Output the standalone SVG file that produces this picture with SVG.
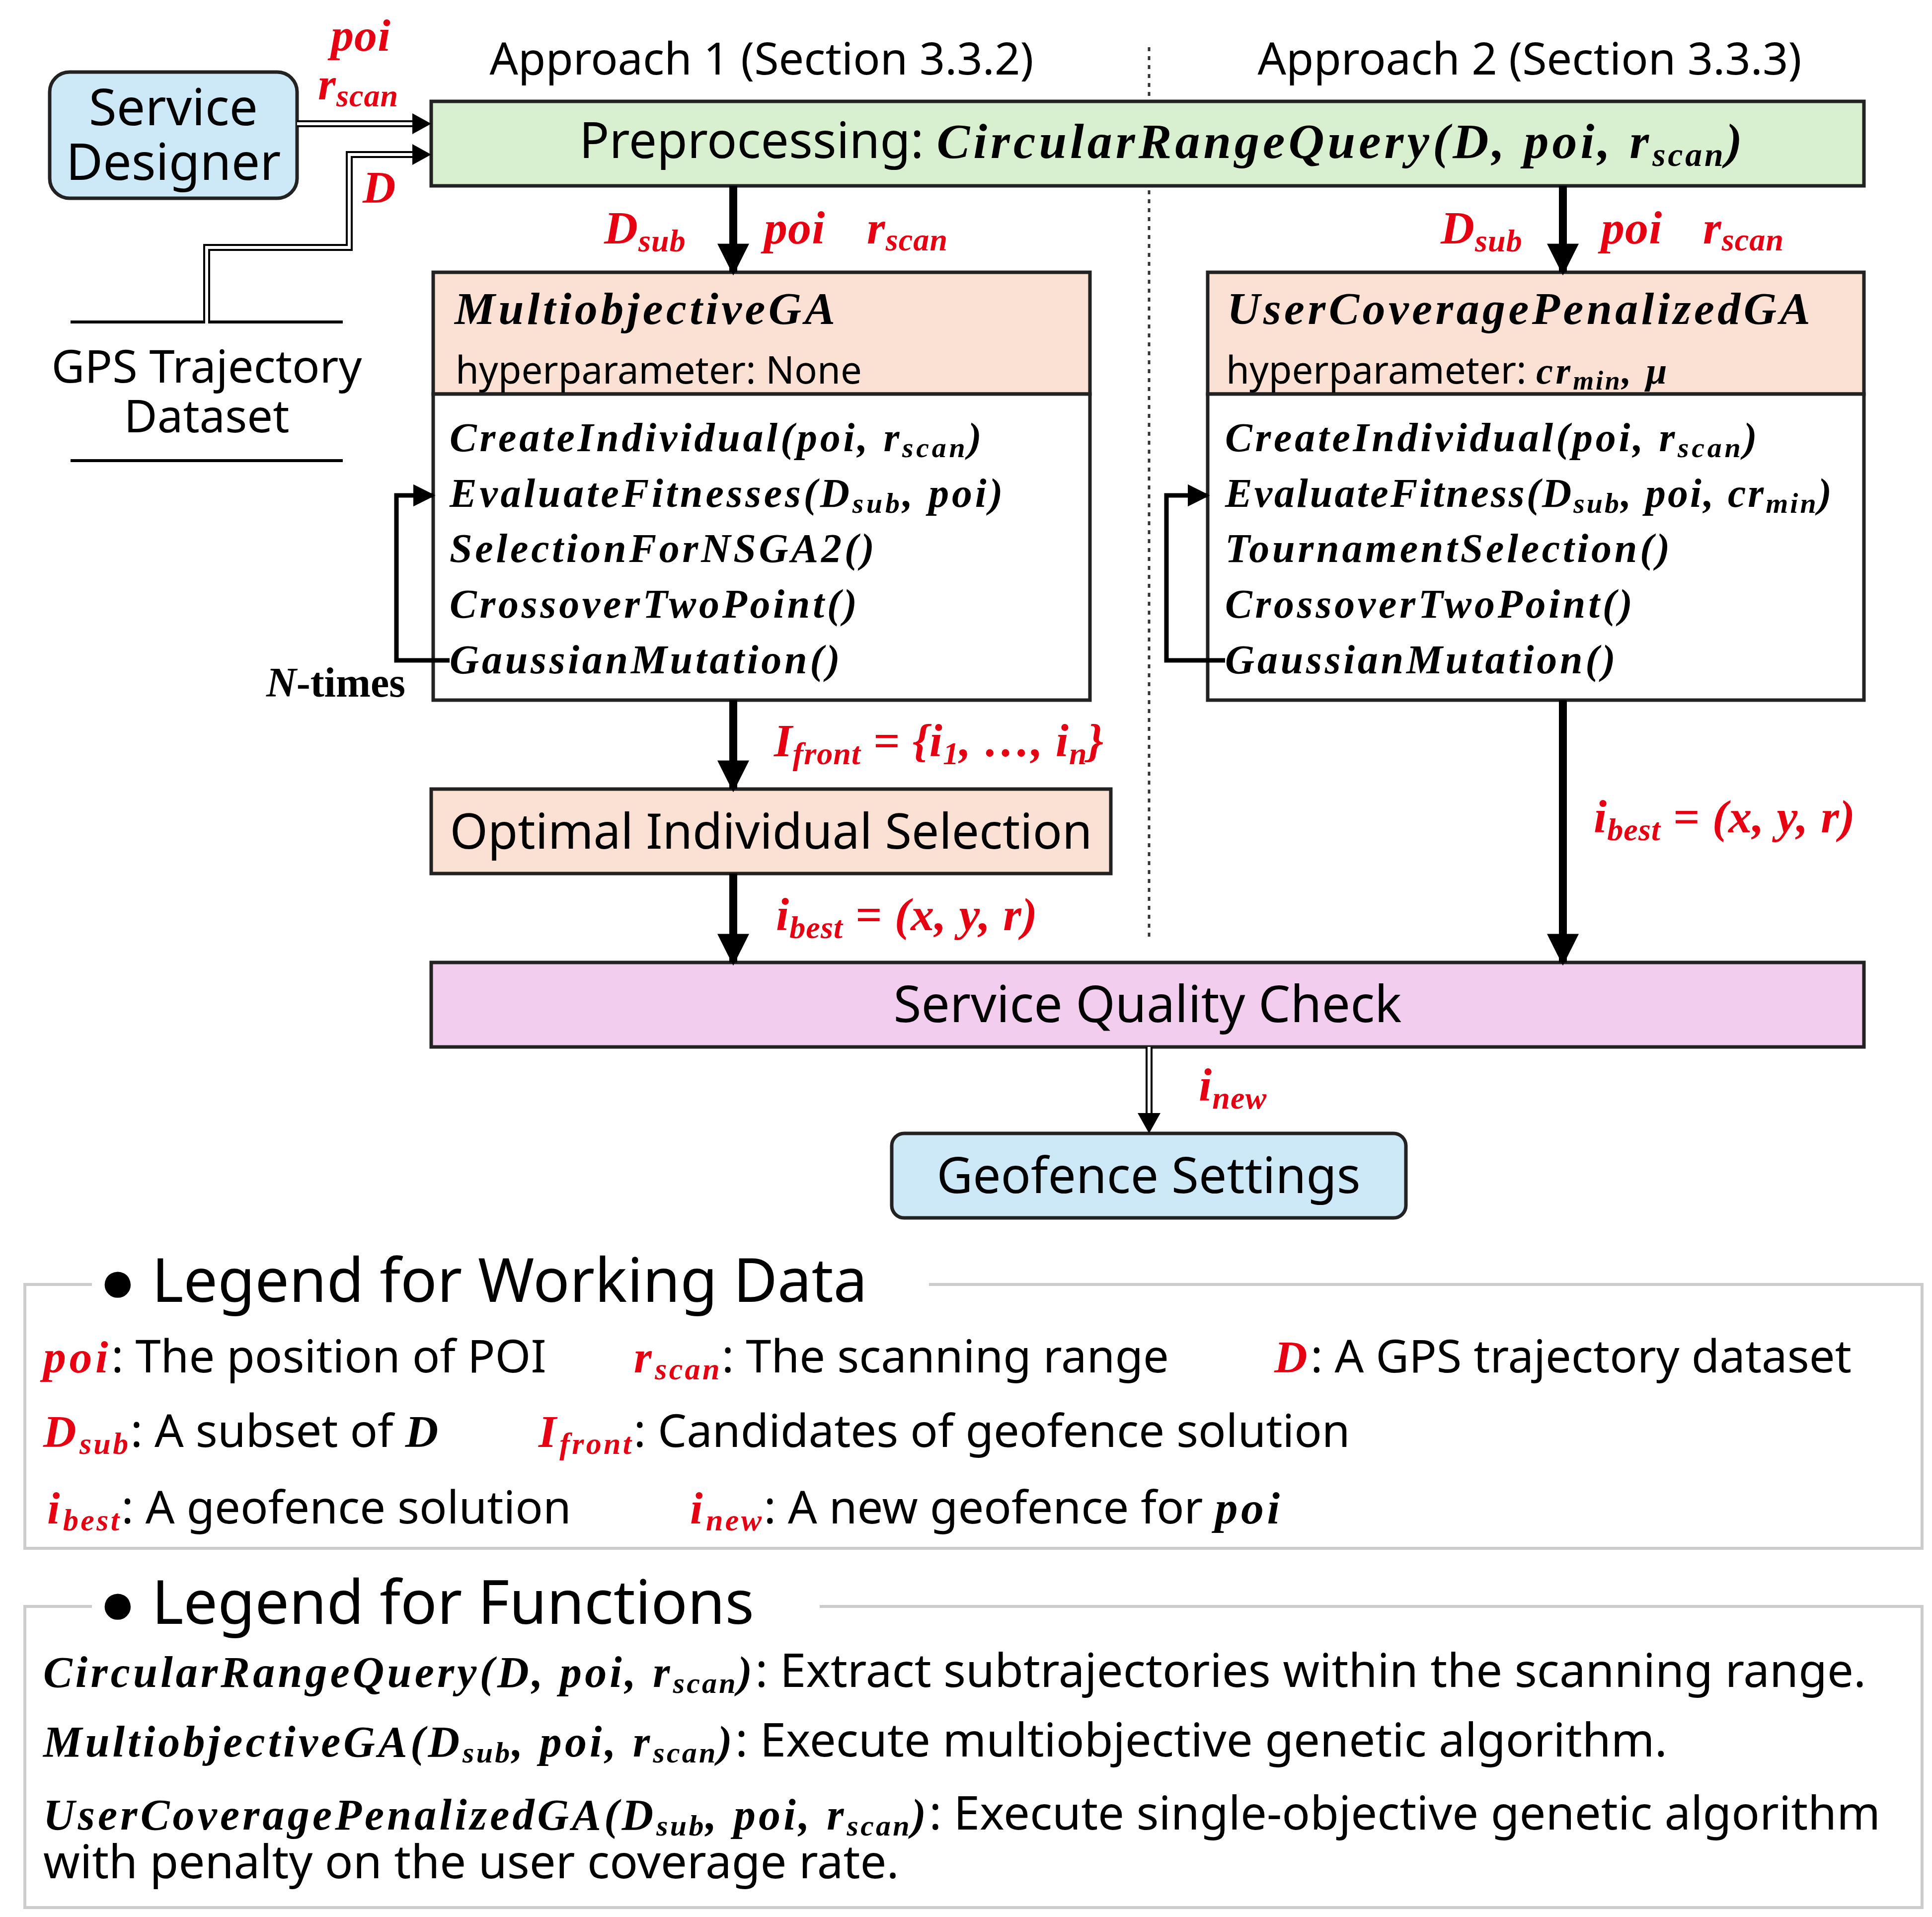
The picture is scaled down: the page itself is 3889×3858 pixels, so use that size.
<svg xmlns="http://www.w3.org/2000/svg" width="3889" height="3858" viewBox="0 0 3889 3858">
<style>
.sans{font-family:"Noto Sans","Open Sans",sans-serif;fill:#000;letter-spacing:0}
.m{font-family:"Liberation Serif",serif;font-weight:bold;font-style:italic;letter-spacing:0.07em}
.r{fill:#e60012}
.box{stroke:#222;stroke-width:7}
.thick{stroke:#000;stroke-width:16;fill:none}
.loop{stroke:#000;stroke-width:9;fill:none}
.dbo{stroke:#000;stroke-width:14;fill:none}
.dbi{stroke:#fff;stroke-width:6;fill:none}
.leg{fill:none;stroke:#ccc;stroke-width:6}
</style>
<defs>
<marker id="ah" viewBox="0 0 10 10" refX="9" refY="5" markerWidth="4" markerHeight="4" orient="auto" markerUnits="strokeWidth"><path d="M0,0L10,5L0,10z" fill="#000"/></marker>
<marker id="ah2" viewBox="0 0 10 10" refX="9" refY="5" markerWidth="5" markerHeight="5" orient="auto" markerUnits="strokeWidth"><path d="M0,0L10,5L0,10z" fill="#000"/></marker>
</defs>
<rect width="3889" height="3858" fill="#fff"/>

<line x1="2313" y1="95" x2="2313" y2="1895" stroke="#333" stroke-width="5" stroke-dasharray="8,10"/>
<text class="sans" x="1533" y="150" font-size="90" text-anchor="middle">Approach 1 (Section 3.3.2)</text>
<text class="sans" x="3079" y="150" font-size="90" text-anchor="middle">Approach 2 (Section 3.3.3)</text>

<g id="service-designer">
<rect x="100" y="145" width="498" height="254" rx="40" fill="#cde8f7" class="box"/>
<text class="sans" x="349" y="252" font-size="102" text-anchor="middle">Service</text>
<text class="sans" x="349" y="362" font-size="102" text-anchor="middle">Designer</text>
</g>

<g id="gps-dataset">
<line x1="142" y1="648" x2="690" y2="648" stroke="#000" stroke-width="6"/>
<line x1="142" y1="927" x2="690" y2="927" stroke="#000" stroke-width="6"/>
<text class="sans" x="416" y="770" font-size="92" text-anchor="middle">GPS Trajectory</text>
<text class="sans" x="416" y="870" font-size="92" text-anchor="middle">Dataset</text>
</g>

<g id="preprocessing">
<rect x="868" y="204" width="2884" height="170" fill="#d8f0cf" class="box"/>
<text x="1166" y="318" font-size="100"><tspan class="sans">Preprocessing: </tspan><tspan class="m">CircularRangeQuery(D, poi, r</tspan><tspan class="m" font-size="68" dy="16">scan</tspan><tspan class="m" dy="-16">)</tspan></text>
</g>

<g id="multiobjective-ga">
<rect x="872" y="548" width="1322" height="245" fill="#fbe1d3" class="box"/>
<rect x="872" y="793" width="1322" height="616" fill="#fff" class="box"/>
<text class="m" x="915" y="652" font-size="92">MultiobjectiveGA</text>
<text class="sans" x="917" y="772" font-size="76">hyperparameter: None</text>
<g class="m" font-size="82">
<text x="905" y="908">CreateIndividual(poi, r<tspan font-size="58" dy="12">scan</tspan><tspan dy="-12">)</tspan></text>
<text x="905" y="1020">EvaluateFitnesses(D<tspan font-size="58" dy="12">sub</tspan><tspan dy="-12">, poi)</tspan></text>
<text x="905" y="1131">SelectionForNSGA2()</text>
<text x="905" y="1243">CrossoverTwoPoint()</text>
<text x="905" y="1355">GaussianMutation()</text>
</g>
</g>

<g id="user-coverage-ga">
<rect x="2431" y="548" width="1321" height="245" fill="#fbe1d3" class="box"/>
<rect x="2431" y="793" width="1321" height="616" fill="#fff" class="box"/>
<text class="m" x="2470" y="652" font-size="92">UserCoveragePenalizedGA</text>
<text x="2468" y="772" font-size="76"><tspan class="sans">hyperparameter: </tspan><tspan class="m">cr</tspan><tspan class="m" font-size="54" dy="12">min</tspan><tspan class="m" dy="-12">, μ</tspan></text>
<g class="m" font-size="82">
<text x="2466" y="908">CreateIndividual(poi, r<tspan font-size="58" dy="12">scan</tspan><tspan dy="-12">)</tspan></text>
<text x="2466" y="1020" letter-spacing="4">EvaluateFitness(D<tspan font-size="58" dy="12">sub</tspan><tspan dy="-12">, poi, cr</tspan><tspan font-size="58" dy="12">min</tspan><tspan dy="-12">)</tspan></text>
<text x="2466" y="1131">TournamentSelection()</text>
<text x="2466" y="1243">CrossoverTwoPoint()</text>
<text x="2466" y="1355">GaussianMutation()</text>
</g>
</g>

<g id="optimal-selection">
<rect x="868" y="1588" width="1368" height="170" fill="#fbe1d3" class="box"/>
<text class="sans" x="1552" y="1708" font-size="98" text-anchor="middle">Optimal Individual Selection</text>
</g>

<g id="service-quality-check">
<rect x="868" y="1937" width="2884" height="170" fill="#f2cdee" class="box"/>
<text class="sans" x="2310" y="2057" font-size="102" text-anchor="middle">Service Quality Check</text>
</g>

<g id="geofence-settings">
<rect x="1795" y="2281" width="1035" height="170" rx="25" fill="#cde8f7" class="box"/>
<text class="sans" x="2312" y="2401" font-size="100" text-anchor="middle">Geofence Settings</text>
</g>

<g id="connectors">
<path class="dbo" d="M598,249H850"/>
<path class="dbi" d="M598,249H842"/>
<path class="dbo" d="M416,648V498H703V311H850"/>
<path class="dbi" d="M416,652V498H703V311H842"/>
<path d="M868,249L830,228V270z M868,311L830,290V332z" fill="#000"/>
<line class="thick" x1="1476" y1="374" x2="1476" y2="548" marker-end="url(#ah)"/>
<line class="thick" x1="3146" y1="374" x2="3146" y2="548" marker-end="url(#ah)"/>
<line class="thick" x1="1476" y1="1409" x2="1476" y2="1588" marker-end="url(#ah)"/>
<line class="thick" x1="1476" y1="1758" x2="1476" y2="1937" marker-end="url(#ah)"/>
<line class="thick" x1="3146" y1="1409" x2="3146" y2="1937" marker-end="url(#ah)"/>
<path class="dbo" d="M2313,2107V2250"/>
<path class="dbi" d="M2313,2107V2250"/>
<path d="M2313,2281L2290,2240H2336z" fill="#000"/>
<path class="loop" d="M905,1329H798V997H872" marker-end="url(#ah2)"/>
<path class="loop" d="M2466,1329H2348V997H2431" marker-end="url(#ah2)"/>
</g>

<g id="labels" class="m r">
<text x="666" y="102" font-size="92">poi</text>
<text x="640" y="200" font-size="92">r<tspan font-size="64" dy="14">scan</tspan></text>
<text x="730" y="408" font-size="92">D</text>
<text x="1216" y="490" font-size="94">D<tspan font-size="64" dy="16">sub</tspan></text>
<text x="1538" y="490" font-size="94">poi</text>
<text x="1745" y="490" font-size="94">r<tspan font-size="64" dy="14">scan</tspan></text>
<text x="2900" y="490" font-size="94">D<tspan font-size="64" dy="16">sub</tspan></text>
<text x="3223" y="490" font-size="94">poi</text>
<text x="3428" y="490" font-size="94">r<tspan font-size="64" dy="14">scan</tspan></text>
<text x="1558" y="1522" font-size="94">I<tspan font-size="64" dy="16">front</tspan><tspan dy="-16"> = {i</tspan><tspan font-size="64" dy="16">1</tspan><tspan dy="-16">, …, i</tspan><tspan font-size="64" dy="16">n</tspan><tspan dy="-16">}</tspan></text>
<text x="1562" y="1872" font-size="94">i<tspan font-size="64" dy="16">best</tspan><tspan dy="-16"> = (x, y, r)</tspan></text>
<text x="3208" y="1675" font-size="94">i<tspan font-size="64" dy="16">best</tspan><tspan dy="-16"> = (x, y, r)</tspan></text>
<text x="2413" y="2215" font-size="94">i<tspan font-size="64" dy="16">new</tspan></text>
</g>
<text x="536" y="1402" font-size="84" font-family="Liberation Serif, serif" font-weight="bold"><tspan font-style="italic">N</tspan>-times</text>

<g id="legend-working-data">
<path class="leg" d="M185,2585H50V3116H3869V2585H1870"/>
<text class="sans" x="200" y="2620" font-size="122">●  Legend for Working Data</text>
<g font-size="92">
<text x="87" y="2762"><tspan class="m r">poi</tspan><tspan class="sans">:  The position of POI</tspan></text>
<text x="1276" y="2762"><tspan class="m r">r</tspan><tspan class="m r" font-size="62" dy="14">scan</tspan><tspan class="sans" dy="-14">:  The scanning range</tspan></text>
<text x="2565" y="2762"><tspan class="m r">D</tspan><tspan class="sans">:  A GPS trajectory dataset</tspan></text>
<text x="87" y="2912"><tspan class="m r">D</tspan><tspan class="m r" font-size="62" dy="14">sub</tspan><tspan class="sans" dy="-14">:  A subset of </tspan><tspan class="m">D</tspan></text>
<text x="1084" y="2912"><tspan class="m r">I</tspan><tspan class="m r" font-size="62" dy="14">front</tspan><tspan class="sans" dy="-14">:  Candidates of geofence solution</tspan></text>
<text x="95" y="3066"><tspan class="m r">i</tspan><tspan class="m r" font-size="62" dy="14">best</tspan><tspan class="sans" dy="-14">:  A geofence solution</tspan></text>
<text x="1389" y="3066"><tspan class="m r">i</tspan><tspan class="m r" font-size="62" dy="14">new</tspan><tspan class="sans" dy="-14">:  A new geofence for </tspan><tspan class="m">poi</tspan></text>
</g>
</g>

<g id="legend-functions">
<path class="leg" d="M185,3233H50V3839H3869V3233H1650"/>
<text class="sans" x="200" y="3268" font-size="122">●  Legend for Functions</text>
<g font-size="88">
<text x="87" y="3395"><tspan class="m">CircularRangeQuery(D, poi, r</tspan><tspan class="m" font-size="60" dy="12">scan</tspan><tspan class="m" dy="-12">)</tspan><tspan class="sans" font-size="94">:  Extract subtrajectories within the scanning range.</tspan></text>
<text x="87" y="3535"><tspan class="m">MultiobjectiveGA(D</tspan><tspan class="m" font-size="60" dy="12">sub</tspan><tspan class="m" dy="-12">, poi, r</tspan><tspan class="m" font-size="60" dy="12">scan</tspan><tspan class="m" dy="-12">)</tspan><tspan class="sans" font-size="94">:  Execute multiobjective genetic algorithm.</tspan></text>
<text x="87" y="3682"><tspan class="m">UserCoveragePenalizedGA(D</tspan><tspan class="m" font-size="60" dy="12">sub</tspan><tspan class="m" dy="-12">, poi, r</tspan><tspan class="m" font-size="60" dy="12">scan</tspan><tspan class="m" dy="-12">)</tspan><tspan class="sans" font-size="94">:  Execute single-objective genetic algorithm</tspan></text>
<text class="sans" x="87" y="3780" font-size="94">with penalty on the user coverage rate.</text>
</g>
</g>
</svg>
